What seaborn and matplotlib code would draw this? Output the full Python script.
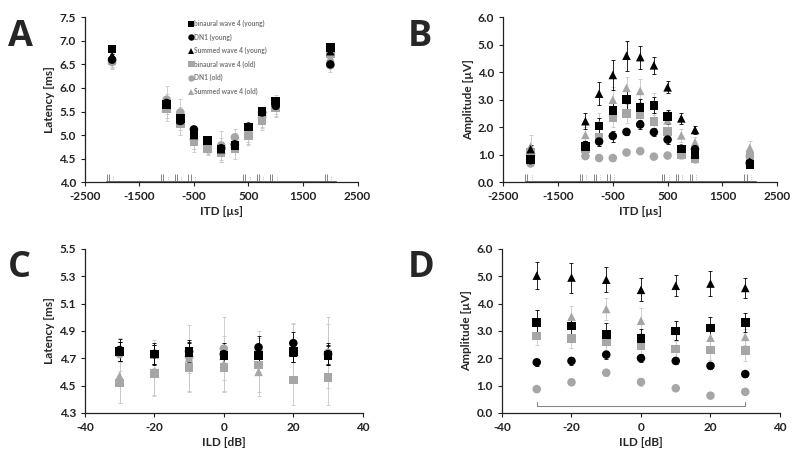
import matplotlib
matplotlib.use('Agg')
import matplotlib.pyplot as plt
import seaborn as sns
import numpy as np
import pandas as pd

# ---- data ----
series = ['binaural wave 4 (young)', 'DN1 (young)', 'Summed wave 4 (young)',
          'binaural wave 4 (old)', 'DN1 (old)', 'Summed wave 4 (old)']

itd = [-2000, -1000, -750, -500, -250, 0, 250, 500, 750, 1000, 2000]
ild = [-30, -20, -10, 0, 10, 20, 30]

# A: latency vs ITD
lat_itd = {
    'binaural wave 4 (young)': [6.83, 5.65, 5.35, 5.00, 4.88, 4.70, 4.78, 5.17, 5.50, 5.72, 6.86],
    'DN1 (young)':             [6.60, 5.68, 5.30, 5.12, 4.89, 4.72, 4.80, 5.18, 5.48, 5.62, 6.50],
    'Summed wave 4 (young)':   [6.68, 5.68, 5.32, 5.00, 4.88, 4.70, 4.82, 5.18, 5.50, 5.70, 6.78],
    'binaural wave 4 (old)':   [6.57, 5.55, 5.25, 4.85, 4.72, 4.62, 4.70, 4.98, 5.30, 5.58, 6.72],
    'DN1 (old)':               [6.55, 5.75, 5.48, 4.90, 4.78, 4.78, 4.95, 5.05, 5.38, 5.65, 6.48],
    'Summed wave 4 (old)':     [6.60, 5.62, 5.35, 4.90, 4.75, 4.68, 4.85, 5.00, 5.35, 5.60, 6.65],
}
lat_itd_err = {
    'binaural wave 4 (young)': [0.05, 0.08, 0.08, 0.07, 0.05, 0.06, 0.06, 0.06, 0.08, 0.06, 0.06],
    'DN1 (young)':             [0.05, 0.08, 0.08, 0.08, 0.05, 0.06, 0.06, 0.06, 0.07, 0.07, 0.05],
    'Summed wave 4 (young)':   [0.05, 0.08, 0.08, 0.07, 0.05, 0.06, 0.06, 0.06, 0.08, 0.07, 0.06],
    'binaural wave 4 (old)':   [0.15, 0.25, 0.25, 0.20, 0.15, 0.20, 0.20, 0.20, 0.20, 0.20, 0.15],
    'DN1 (old)':               [0.15, 0.30, 0.28, 0.20, 0.15, 0.30, 0.18, 0.20, 0.20, 0.20, 0.15],
    'Summed wave 4 (old)':     [0.15, 0.25, 0.25, 0.20, 0.15, 0.25, 0.20, 0.20, 0.20, 0.20, 0.15],
}

# B: amplitude vs ITD
amp_itd = {
    'binaural wave 4 (young)': [0.82, 1.30, 2.05, 2.60, 3.00, 2.72, 2.80, 2.38, 1.20, 1.00, 0.65],
    'DN1 (young)':             [0.80, 1.35, 1.48, 1.68, 1.83, 2.10, 1.82, 1.55, 1.22, 1.20, 0.70],
    'Summed wave 4 (young)':   [1.20, 2.22, 3.22, 3.90, 4.60, 4.55, 4.25, 3.45, 2.32, 1.90, 0.75],
    'binaural wave 4 (old)':   [1.10, 1.20, 1.62, 2.35, 2.50, 2.45, 2.20, 1.85, 1.00, 0.85, 0.95],
    'DN1 (old)':               [0.68, 0.95, 0.88, 0.88, 1.08, 1.13, 0.93, 0.97, 1.00, 0.90, 0.95],
    'Summed wave 4 (old)':     [1.30, 1.72, 2.10, 3.00, 3.43, 3.32, 2.85, 2.25, 1.70, 1.45, 1.25],
}
amp_itd_err = {
    'binaural wave 4 (young)': [0.15, 0.20, 0.30, 0.30, 0.35, 0.30, 0.30, 0.25, 0.15, 0.15, 0.15],
    'DN1 (young)':             [0.10, 0.15, 0.15, 0.20, 0.10, 0.15, 0.15, 0.15, 0.10, 0.10, 0.10],
    'Summed wave 4 (young)':   [0.15, 0.30, 0.42, 0.55, 0.55, 0.42, 0.30, 0.22, 0.20, 0.15, 0.15],
    'binaural wave 4 (old)':   [0.20, 0.25, 0.30, 0.35, 0.35, 0.30, 0.30, 0.25, 0.15, 0.15, 0.20],
    'DN1 (old)':               [0.10, 0.10, 0.10, 0.10, 0.10, 0.10, 0.10, 0.10, 0.10, 0.10, 0.10],
    'Summed wave 4 (old)':     [0.40, 0.30, 0.40, 0.45, 0.40, 0.42, 0.40, 0.35, 0.25, 0.20, 0.25],
}

# C: latency vs ILD
lat_ild = {
    'binaural wave 4 (young)': [4.75, 4.73, 4.75, 4.72, 4.72, 4.75, 4.72],
    'DN1 (young)':             [4.76, 4.73, 4.75, 4.73, 4.78, 4.81, 4.73],
    'Summed wave 4 (young)':   [4.75, 4.73, 4.74, 4.72, 4.73, 4.74, 4.73],
    'binaural wave 4 (old)':   [4.52, 4.59, 4.63, 4.63, 4.65, 4.54, 4.56],
    'DN1 (old)':               [4.73, 4.73, 4.71, 4.77, 4.75, 4.74, 4.74],
    'Summed wave 4 (old)':     [4.57, 4.60, 4.70, 4.66, 4.60, 4.75, 4.75],
}
lat_ild_err = {
    'binaural wave 4 (young)': [0.07, 0.07, 0.07, 0.07, 0.07, 0.08, 0.07],
    'DN1 (young)':             [0.08, 0.08, 0.08, 0.08, 0.08, 0.08, 0.08],
    'Summed wave 4 (young)':   [0.07, 0.07, 0.07, 0.07, 0.07, 0.07, 0.07],
    'binaural wave 4 (old)':   [0.15, 0.17, 0.18, 0.18, 0.20, 0.18, 0.20],
    'DN1 (old)':               [0.12, 0.10, 0.12, 0.23, 0.15, 0.22, 0.26],
    'Summed wave 4 (old)':     [0.20, 0.17, 0.24, 0.20, 0.18, 0.20, 0.20],
}

# D: amplitude vs ILD
amp_ild = {
    'binaural wave 4 (young)': [3.30, 3.18, 2.87, 2.72, 3.00, 3.10, 3.30],
    'DN1 (young)':             [1.85, 1.90, 2.13, 2.00, 1.90, 1.72, 1.42],
    'Summed wave 4 (young)':   [5.02, 4.95, 4.87, 4.50, 4.65, 4.73, 4.57],
    'binaural wave 4 (old)':   [2.82, 2.72, 2.60, 2.45, 2.33, 2.30, 2.28],
    'DN1 (old)':               [0.87, 1.12, 1.47, 1.13, 0.90, 0.63, 0.77],
    'Summed wave 4 (old)':     [3.30, 3.52, 3.80, 3.37, 3.00, 2.75, 2.78],
}
amp_ild_err = {
    'binaural wave 4 (young)': [0.45, 0.30, 0.40, 0.35, 0.35, 0.40, 0.35],
    'DN1 (young)':             [0.12, 0.15, 0.15, 0.15, 0.10, 0.10, 0.10],
    'Summed wave 4 (young)':   [0.50, 0.55, 0.45, 0.42, 0.38, 0.45, 0.37],
    'binaural wave 4 (old)':   [0.35, 0.35, 0.30, 0.30, 0.30, 0.35, 0.40],
    'DN1 (old)':               [0.10, 0.10, 0.12, 0.15, 0.08, 0.05, 0.08],
    'Summed wave 4 (old)':     [0.45, 0.40, 0.42, 0.45, 0.35, 0.30, 0.30],
}

# significance bracket positions (x values that are marked)
bracket_itd = [-2000, -1000, -750, -500, 500, 750, 1000, 2000]
bracket_ild = [-30, 30]

# ---- style ----
BLACK = '#000000'
GREY = '#a6a6a6'
colors = {s: (BLACK if 'young' in s else GREY) for s in series}
err_colors = {s: ('#000000' if 'young' in s else '#c8c8c8') for s in series}
markers = {s: ('s' if s.startswith('binaural') else 'o' if s.startswith('DN1') else '^')
           for s in series}
draw_order = series[3:] + series[:3]

sns.set_style('ticks')
plt.rcParams['font.family'] = ['Lato', 'DejaVu Sans']
plt.rcParams['font.weight'] = 'bold'
plt.rcParams['axes.unicode_minus'] = False


def panel(ax, x, vals, errs, xlim, ylim, yticks, yfmt, xlabel, ylabel, legend=False):
    rows = []
    for s in draw_order:
        for xi, yi in zip(x, vals[s]):
            rows.append({'x': xi, 'y': yi, 'series': s})
        ax.errorbar(x, vals[s], yerr=errs[s], fmt='none', ecolor=err_colors[s],
                    elinewidth=0.6, capsize=1.3, capthick=0.6, zorder=1)
    df = pd.DataFrame(rows)
    sns.scatterplot(data=df, x='x', y='y', hue='series', style='series',
                    hue_order=draw_order, style_order=draw_order,
                    palette=colors, markers=markers, s=38, linewidth=0,
                    ax=ax, legend=legend, zorder=3)
    ax.set_xlim(*xlim)
    ax.set_ylim(*ylim)
    ax.set_yticks(yticks)
    ax.set_yticklabels([yfmt.format(v) for v in yticks])
    ax.set_xlabel(xlabel, fontsize=8.5, fontweight='bold', labelpad=3)
    ax.set_ylabel(ylabel, fontsize=8.5, fontweight='bold', labelpad=3)
    ax.tick_params(axis='both', labelsize=8.5, length=3, width=0.8, colors='#222222')
    for sp in ['top', 'right']:
        ax.spines[sp].set_visible(False)
    for sp in ['left', 'bottom']:
        ax.spines[sp].set_linewidth(0.9)
        ax.spines[sp].set_color('#222222')
    for lab in ax.get_xticklabels() + ax.get_yticklabels():
        lab.set_fontweight('bold')


fig = plt.figure(figsize=(8, 4.66), dpi=100)
axA = fig.add_axes([0.106, 0.609, 0.341, 0.354])
axB = fig.add_axes([0.629, 0.609, 0.3425, 0.354])
axC = fig.add_axes([0.106, 0.114, 0.3475, 0.352])
axD = fig.add_axes([0.6275, 0.114, 0.3475, 0.352])

panel(axA, itd, lat_itd, lat_itd_err, (-2500, 2500), (4.0, 7.5),
      np.arange(4.0, 7.51, 0.5), '{:.1f}', 'ITD [µs]', 'Latency [ms]', legend=True)
panel(axB, itd, amp_itd, amp_itd_err, (-2500, 2500), (0.0, 6.0),
      np.arange(0, 6.01, 1.0), '{:.1f}', 'ITD [µs]', 'Amplitude [µV]')
panel(axC, ild, lat_ild, lat_ild_err, (-40, 40), (4.3, 5.5),
      np.arange(4.3, 5.51, 0.2), '{:.1f}', 'ILD [dB]', 'Latency [ms]')
panel(axD, ild, amp_ild, amp_ild_err, (-40, 40), (0.0, 6.0),
      np.arange(0, 6.01, 1.0), '{:.1f}', 'ILD [dB]', 'Amplitude [µV]')

for ax in (axA, axB):
    ax.set_xticks(np.arange(-2500, 2501, 1000))
for ax in (axC, axD):
    ax.set_xticks(np.arange(-40, 41, 20))
for ax in (axA, axB, axC, axD):
    for lab in ax.get_xticklabels():
        lab.set_fontweight('bold')

# significance markers in A and B: thin line along the bottom with small ticks
for ax, base, h in ((axA, 4.02, 0.15), (axB, 0.05, 0.25)):
    ax.plot([bracket_itd[0] - 110, bracket_itd[-1] + 110], [base, base],
            color='#555555', lw=0.6, zorder=2)
    for bx in bracket_itd:
        ax.vlines([bx - 100, bx - 60], base, base + h, color='#555555', lw=0.5, zorder=2)
        ax.vlines([bx + 20], base, base + h * 0.8, color='#888888', lw=0.5,
                  linestyles=':', zorder=2)

# bracket in D
axD.plot([bracket_ild[0], bracket_ild[0], bracket_ild[1], bracket_ild[1]],
         [0.40, 0.25, 0.25, 0.40], color='#888888', lw=0.8, zorder=2)

# legend in A, young series first
leg = axA.get_legend()
h_map = {t.get_text(): hd for t, hd in zip(leg.get_texts(), leg.legend_handles)}
axA.legend([h_map[s] for s in series], series, loc='upper left',
           bbox_to_anchor=(0.37, 1.0), frameon=False, fontsize=4.8,
           labelcolor='#777777', handletextpad=0.1, borderaxespad=0.0,
           labelspacing=0.95, markerscale=0.75, handlelength=0.8)

# panel letters
for letter, (fx, fy) in zip('ABCD', [(0.01, 0.92), (0.51, 0.92), (0.01, 0.425), (0.51, 0.425)]):
    fig.text(fx, fy, letter, fontsize=26, fontweight='bold', ha='left', va='center',
             family=['Open Sans', 'DejaVu Sans'])

fig.savefig('out.png', dpi=100)
